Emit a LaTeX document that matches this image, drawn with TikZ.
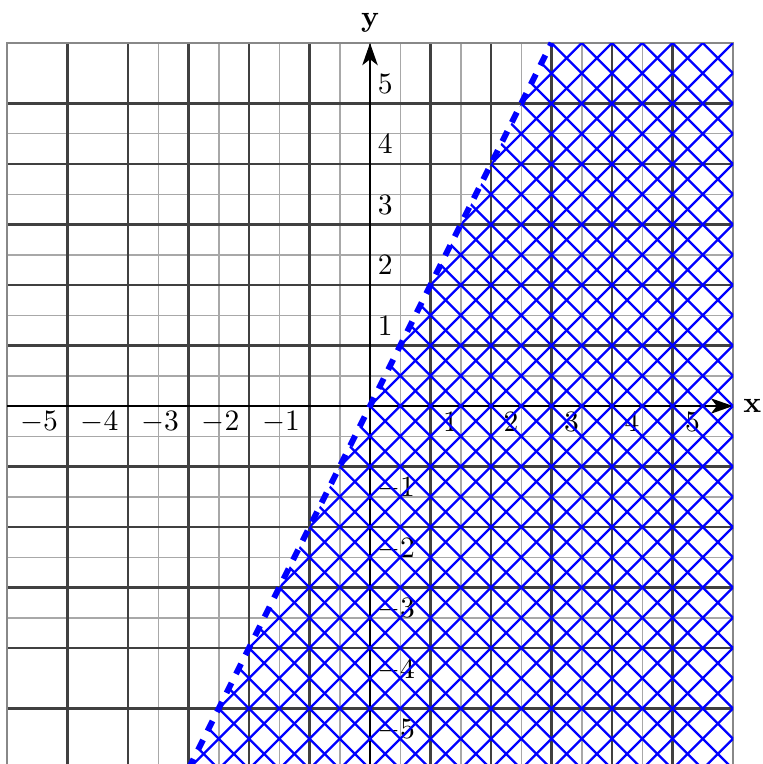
\documentclass[tikz,border=0pt]{standalone}
\usetikzlibrary{arrows.meta}
\definecolor{majorgray}{HTML}{404040}
\definecolor{minorgray}{HTML}{A8A8A8}
\definecolor{bordergray}{HTML}{888888}
\tikzset{
  minorline/.style={draw=minorgray, line width=0.5pt},
  majorline/.style={draw=majorgray, line width=0.7pt},
  borderline/.style={draw=bordergray, line width=0.8pt},
  axisline/.style={draw=black, line width=0.75pt, -{Stealth[length=7.5pt,width=5.2pt,inset=2pt]}},
  hatchline/.style={draw=blue, line width=0.8pt},
  boundary/.style={draw=blue, line width=2pt, dash pattern=on 3.8pt off 3.4pt},
  ticklabel/.style={inner sep=0pt, anchor=center}
}
\begin{document}
\begin{tikzpicture}[x=0.72cm,y=0.72cm]
\useasboundingbox (-6.116,-5.917) rectangle (6.479,6.711);
% minor grid
\foreach \v in {-3.5,-2.5,...,4.5} {
  \draw[minorline] (\v,-6) -- (\v,6);
  \draw[minorline] (-6,\v) -- (6,\v);
}
% major grid
\foreach \v in {-5,...,5} {
  \draw[majorline] (\v,-6) -- (\v,6);
  \draw[majorline] (-6,\v) -- (6,\v);
}
\draw[borderline] (-6,-6) rectangle (6,6);
% axes
\coordinate (xs) at (-6,0);
\coordinate (xe) at (6,0);
\coordinate (ys) at (0,-6);
\coordinate (ye) at (0,6);
\draw[axisline] (xs) -- (xe);
\draw[axisline] (ys) -- (ye);
\node[right] (xlab) at (xe) {\textbf{x}};
\node[above] (ylab) at (ye) {\textbf{y}};
% tick labels
\foreach \k in {1,...,5} {
  \node[ticklabel] (xp\k) at (\k+0.33,-0.26) {$\k$};
  \node[ticklabel] (xn\k) at (-\k-0.47,-0.27) {$-\k$};
  \node[ticklabel] (yp\k) at (0.25,\k+0.33) {$\k$};
  \node[ticklabel] (yn\k) at (0.43,-\k-0.36) {$-\k$};
}
% hatched region y < 2x
\coordinate (la) at (-3,-6);
\coordinate (lb) at (3,6);
\begin{scope}
  \clip (la) -- (lb) -- (6,6) -- (6,-6) -- cycle;
  \foreach \c in {-12,-11.5,...,12} {
    \draw[hatchline] (\c+7,-7) -- (\c-7,7);
    \draw[hatchline] (\c-7,-7) -- (\c+7,7);
  }
\end{scope}
\draw[boundary] (la) -- (lb);
\end{tikzpicture}
\end{document}
